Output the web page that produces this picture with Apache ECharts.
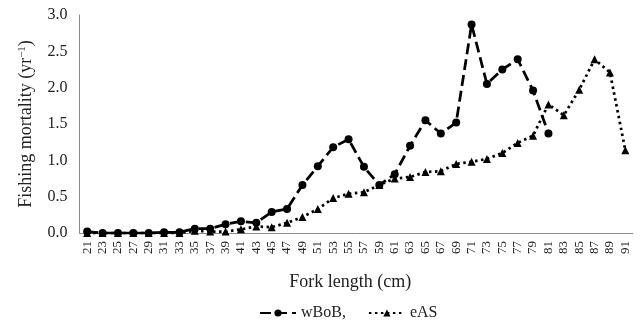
<!DOCTYPE html>
<html>
<head>
<meta charset="utf-8">
<script src="https://cdn.jsdelivr.net/npm/echarts@6/dist/echarts.min.js"></script>
<style>
  html, body { margin: 0; padding: 0; background: #fff; }
  #chart { width: 642px; height: 330px; }
</style>
</head>
<body>
<div id="chart"></div>
<script>
// fork length classes (cm)
var lengths = ['21', '23', '25', '27', '29', '31', '33', '35', '37', '39', '41', '43',
    '45', '47', '49', '51', '53', '55', '57', '59', '61', '63', '65', '67',
    '69', '71', '73', '75', '77', '79', '81', '83', '85', '87', '89', '91'];

// fishing mortality (yr-1)
var wBoB = [0.02, 0.00, 0.00, 0.00, 0.00, 0.01, 0.01, 0.06, 0.06, 0.12, 0.16, 0.14,
    0.29, 0.33, 0.66, 0.92, 1.18, 1.29, 0.91, 0.66, 0.81, 1.20, 1.55, 1.37,
    1.52, 2.87, 2.05, 2.25, 2.39, 1.96, 1.37, null, null, null, null, null];
var eAS = [0.00, 0.00, 0.00, 0.00, 0.00, 0.00, 0.00, 0.03, 0.02, 0.02, 0.05, 0.09,
    0.08, 0.14, 0.22, 0.33, 0.48, 0.54, 0.56, 0.66, 0.75, 0.77, 0.84, 0.85,
    0.95, 0.98, 1.02, 1.10, 1.24, 1.34, 1.77, 1.62, 1.97, 2.39, 2.21, 1.14];

var yTicks = [0, 0.5, 1.0, 1.5, 2.0, 2.5, 3.0];

var font = "'Liberation Serif', 'DejaVu Serif', serif";
var myChart = echarts.init(document.getElementById('chart'));

var option = {
    animation: false,
    textStyle: { fontFamily: font, color: '#222' },
    grid: { left: 79.5, right: 9, top: 15, bottom: 97 },
    legend: {
        bottom: 4,
        left: 254,
        itemWidth: 36,
        itemHeight: 9,
        itemGap: 22,
        textStyle: { fontFamily: font, fontSize: 16, color: '#222' },
        data: ['wBoB,', 'eAS']
    },
    xAxis: {
        type: 'category',
        data: lengths,
        boundaryGap: true,
        name: 'Fork length (cm)',
        nameLocation: 'middle',
        nameGap: 40,
        nameTextStyle: { fontFamily: font, fontSize: 18, color: '#222', padding: [0, 12, 0, 0] },
        axisLine: { lineStyle: { color: '#8c8c8c', width: 1 } },
        axisTick: { show: false },
        axisLabel: {
            rotate: 90,
            interval: 0,
            margin: 8,
            fontSize: 13,
            fontFamily: font,
            color: '#222'
        }
    },
    yAxis: {
        type: 'value',
        min: yTicks[0],
        max: yTicks[yTicks.length - 1],
        interval: 0.5,
        name: '{a|Fishing mortality (yr}{s|−1}{a|)}',
        nameLocation: 'middle',
        nameGap: 44,
        nameTextStyle: {
            rich: {
                a: { fontFamily: font, fontSize: 18, color: '#222' },
                s: { fontFamily: font, fontSize: 11, color: '#222', verticalAlign: 'top', padding: [0, 0, 8, 0] }
            }
        },
        axisLine: { show: true, lineStyle: { color: '#8c8c8c', width: 1 } },
        axisTick: { show: false },
        splitLine: { show: false },
        axisLabel: {
            fontSize: 16,
            fontFamily: font,
            color: '#222',
            margin: 12,
            formatter: function (v) { return v.toFixed(1); }
        }
    },
    series: [
        {
            name: 'wBoB,',
            type: 'line',
            data: wBoB,
            symbol: 'circle',
            symbolSize: 8,
            itemStyle: { color: '#000' },
            lineStyle: { color: '#000', width: 2.75, type: [11, 5] }
        },
        {
            name: 'eAS',
            type: 'line',
            data: eAS,
            symbol: 'triangle',
            symbolSize: 8,
            itemStyle: { color: '#000' },
            lineStyle: { color: '#000', width: 2.75, type: [2.5, 3.5] }
        }
    ]
};
myChart.setOption(option);
window.addEventListener('resize', function () {
    myChart.resize();
});
</script>
</body>
</html>
